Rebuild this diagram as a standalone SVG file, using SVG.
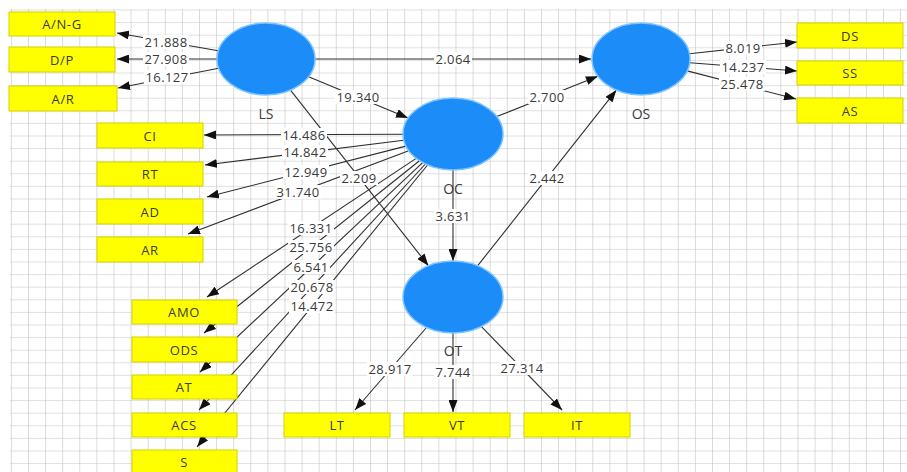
<svg xmlns="http://www.w3.org/2000/svg" width="907" height="472" viewBox="0 0 907 472">
<style>
.bg{fill:#ffffff}
.box{fill:#ffff00;stroke:#d2d200;stroke-width:1}
.bt{font-family:"Open Sans","Liberation Sans",sans-serif;font-size:13px;fill:#3a3a3a;text-anchor:middle;dominant-baseline:central;letter-spacing:0.6px}
.lv{fill:#1c8cf8;stroke:#7cc4ff;stroke-width:1.5}
.nl{font-family:"Open Sans","Liberation Sans",sans-serif;font-size:14px;fill:#3a3a3a;text-anchor:middle;dominant-baseline:central}
.ln{stroke:#2e2e2e;stroke-width:1.1;fill:none;marker-end:url(#ah)}
.lb{fill:#ffffff}
.lt{font-family:"Open Sans","Liberation Sans",sans-serif;font-size:13px;fill:#3a3a3a;text-anchor:middle;dominant-baseline:central;letter-spacing:0.4px}
</style>
<defs>
<pattern id="grid" x="10.9" y="9.5" width="17.1" height="12.6" patternUnits="userSpaceOnUse">
<path d="M0,0 V12.6 M0,0 H17.1" stroke="#c2c2c2" stroke-width="1.2" fill="none"/>
</pattern>
<marker id="ah" markerUnits="userSpaceOnUse" markerWidth="12" markerHeight="9" refX="12" refY="4.5" orient="auto">
<path d="M0,0 L12,4.5 L0,9 z" fill="#111"/>
</marker>
</defs>
<rect class="bg" x="0" y="0" width="907" height="472"/>
<rect x="10" y="9" width="897" height="463" fill="url(#grid)"/>

<g id="connectors">
<line class="ln" x1="218.3" y1="50.7" x2="117" y2="33"/>
<line class="ln" x1="217" y1="59" x2="117" y2="59"/>
<line class="ln" x1="218.6" y1="68.3" x2="118" y2="88"/>
<line class="ln" x1="315" y1="59" x2="591" y2="59"/>
<line class="ln" x1="308.6" y1="76.7" x2="408" y2="118"/>
<line class="ln" x1="290.5" y1="90.2" x2="428.4" y2="265.7"/>
<line class="ln" x1="403" y1="134.2" x2="204" y2="135"/>
<line class="ln" x1="403.7" y1="140.2" x2="205" y2="165"/>
<line class="ln" x1="405.9" y1="146.1" x2="207" y2="197"/>
<line class="ln" x1="408.7" y1="150.7" x2="188" y2="234"/>
<line class="ln" x1="416.2" y1="158.4" x2="207" y2="297"/>
<line class="ln" x1="419.5" y1="160.7" x2="204" y2="333"/>
<line class="ln" x1="422.6" y1="162.6" x2="200" y2="372"/>
<line class="ln" x1="425.4" y1="164" x2="199" y2="410"/>
<line class="ln" x1="427.6" y1="165" x2="197" y2="447"/>
<line class="ln" x1="496.7" y1="116.6" x2="597.9" y2="76.2"/>
<line class="ln" x1="453" y1="170" x2="453" y2="261"/>
<line class="ln" x1="477.7" y1="265.7" x2="616.4" y2="90.1"/>
<line class="ln" x1="426.5" y1="327.5" x2="355" y2="410"/>
<line class="ln" x1="453" y1="333" x2="453" y2="412"/>
<line class="ln" x1="481.5" y1="326.6" x2="562" y2="410"/>
<line class="ln" x1="689.5" y1="53.7" x2="797" y2="42"/>
<line class="ln" x1="689.8" y1="62.8" x2="797" y2="71"/>
<line class="ln" x1="687.2" y1="70.9" x2="796" y2="99"/>

<g id="labels">
<rect class="lb" x="143" y="35" width="46" height="14"/><text class="lt" x="166" y="42">21.888</text>
<rect class="lb" x="143" y="52" width="46" height="14"/><text class="lt" x="166" y="59">27.908</text>
<rect class="lb" x="144" y="70" width="46" height="14"/><text class="lt" x="167" y="77">16.127</text>
<rect class="lb" x="434" y="52" width="38" height="14"/><text class="lt" x="453" y="59">2.064</text>
<rect class="lb" x="335" y="90" width="46" height="14"/><text class="lt" x="358" y="97">19.340</text>
<rect class="lb" x="340" y="171" width="38" height="14"/><text class="lt" x="359" y="178">2.209</text>
<rect class="lb" x="281" y="128" width="46" height="14"/><text class="lt" x="304" y="135">14.486</text>
<rect class="lb" x="282" y="145" width="46" height="14"/><text class="lt" x="305" y="152">14.842</text>
<rect class="lb" x="283" y="165" width="46" height="14"/><text class="lt" x="306" y="172">12.949</text>
<rect class="lb" x="275" y="185" width="46" height="14"/><text class="lt" x="298" y="192">31.740</text>
<rect class="lb" x="288" y="221" width="46" height="14"/><text class="lt" x="311" y="228">16.331</text>
<rect class="lb" x="288" y="240" width="46" height="14"/><text class="lt" x="311" y="247">25.756</text>
<rect class="lb" x="292" y="260" width="38" height="14"/><text class="lt" x="311" y="267">6.541</text>
<rect class="lb" x="289" y="280" width="46" height="14"/><text class="lt" x="312" y="287">20.678</text>
<rect class="lb" x="289" y="299" width="46" height="14"/><text class="lt" x="312" y="306">14.472</text>
<rect class="lb" x="528" y="90" width="38" height="14"/><text class="lt" x="547" y="97">2.700</text>
<rect class="lb" x="434" y="209" width="38" height="14"/><text class="lt" x="453" y="216">3.631</text>
<rect class="lb" x="528" y="171" width="38" height="14"/><text class="lt" x="547" y="178">2.442</text>
<rect class="lb" x="367" y="362" width="46" height="14"/><text class="lt" x="390" y="369">28.917</text>
<rect class="lb" x="434" y="365" width="38" height="14"/><text class="lt" x="453" y="372">7.744</text>
<rect class="lb" x="499" y="361" width="46" height="14"/><text class="lt" x="522" y="368">27.314</text>
<rect class="lb" x="724" y="41" width="38" height="14"/><text class="lt" x="743" y="48">8.019</text>
<rect class="lb" x="720" y="60" width="46" height="14"/><text class="lt" x="743" y="66.5">14.237</text>
<rect class="lb" x="719" y="77" width="46" height="14"/><text class="lt" x="742" y="84">25.478</text>
</g>
</g>

<g id="LS"><ellipse class="lv" cx="266" cy="59" rx="49" ry="36"/><text class="nl" x="266" y="113">LS</text></g>
<g id="OS"><ellipse class="lv" cx="641" cy="59" rx="49" ry="36"/><text class="nl" x="641" y="113">OS</text></g>
<g id="OC"><ellipse class="lv" cx="453" cy="134" rx="50" ry="36"/><text class="nl" x="453" y="188">OC</text></g>
<g id="OT"><ellipse class="lv" cx="453" cy="297" rx="50" ry="36"/><text class="nl" x="453" y="350">OT</text></g>

<g id="ANG"><rect class="box" x="9" y="12" width="106" height="24"/><text class="bt" x="62" y="24">A/N-G</text></g>
<g id="DP"><rect class="box" x="9" y="47" width="106" height="25"/><text class="bt" x="62" y="59.5">D/P</text></g>
<g id="AR1"><rect class="box" x="9" y="86" width="108" height="25"/><text class="bt" x="63" y="98.5">A/R</text></g>
<g id="CI"><rect class="box" x="97" y="123" width="106" height="25"/><text class="bt" x="150" y="135.5">CI</text></g>
<g id="RT"><rect class="box" x="97" y="162" width="106" height="24"/><text class="bt" x="150" y="174">RT</text></g>
<g id="AD"><rect class="box" x="97" y="199" width="106" height="25"/><text class="bt" x="150" y="211.5">AD</text></g>
<g id="AR"><rect class="box" x="97" y="237" width="106" height="25"/><text class="bt" x="150" y="249.5">AR</text></g>
<g id="AMO"><rect class="box" x="132" y="300" width="105" height="24"/><text class="bt" x="184" y="312">AMO</text></g>
<g id="ODS"><rect class="box" x="132" y="337" width="105" height="25"/><text class="bt" x="184" y="349.5">ODS</text></g>
<g id="AT"><rect class="box" x="132" y="375" width="105" height="24"/><text class="bt" x="184" y="387">AT</text></g>
<g id="ACS"><rect class="box" x="132" y="413" width="105" height="24"/><text class="bt" x="184" y="425">ACS</text></g>
<g id="S"><rect class="box" x="132" y="450" width="105" height="24"/><text class="bt" x="184" y="462">S</text></g>
<g id="LT"><rect class="box" x="284" y="413" width="106" height="24"/><text class="bt" x="337" y="425">LT</text></g>
<g id="VT"><rect class="box" x="404" y="413" width="106" height="24"/><text class="bt" x="457" y="425">VT</text></g>
<g id="IT"><rect class="box" x="524" y="413" width="106" height="24"/><text class="bt" x="577" y="425">IT</text></g>
<g id="DS"><rect class="box" x="797" y="23" width="106" height="25"/><text class="bt" x="850" y="35.5">DS</text></g>
<g id="SS"><rect class="box" x="797" y="61" width="106" height="24"/><text class="bt" x="850" y="73">SS</text></g>
<g id="AS"><rect class="box" x="797" y="98" width="106" height="25"/><text class="bt" x="850" y="110.5">AS</text></g>
</svg>
